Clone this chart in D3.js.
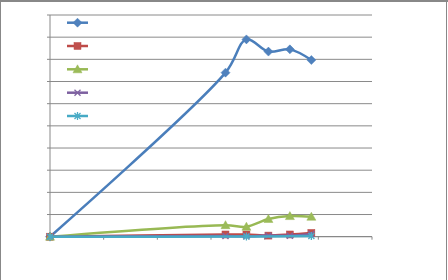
<!DOCTYPE html>
<html><head><meta charset="utf-8">
<script src="https://cdn.jsdelivr.net/npm/d3@7"></script>
<style>html,body{margin:0;padding:0;background:#fff;}svg{display:block;}</style>
</head><body>
<script>
// Data (no labels are shown in the reference)
const xValues = [0, 3.27, 3.66, 4.07, 4.47, 4.87];
const blueValues = [0, 7.40, 8.90, 8.35, 8.45, 7.97];
const redValues = [0, 0.10, 0.10, 0.05, 0.10, 0.17];
const greenValues = [0, 0.52, 0.45, 0.80, 0.93, 0.90];
const purpleValues = [0, 0.03, 0.02, 0.05, 0.04, 0.12];
const cyanX = [0, 3.66, 4.87];
const cyanValues = [0, 0.01, 0.03];
const xTicks = [0, 1, 2, 3, 4, 5, 6];
const yTicks = [0, 1, 2, 3, 4, 5, 6, 7, 8, 9, 10];

const W = 448, H = 280;
const svg = d3.select("body").append("svg").attr("width", W).attr("height", H);

// outer frame
svg.append("line").attr("x1",0).attr("x2",W).attr("y1",1).attr("y2",1).attr("stroke","#888").attr("stroke-width",2);
svg.append("line").attr("x1",0.5).attr("x2",0.5).attr("y1",0).attr("y2",H).attr("stroke","#888");
svg.append("line").attr("x1",446.5).attr("x2",446.5).attr("y1",0).attr("y2",H).attr("stroke","#888");

const x = d3.scaleLinear().domain([0, 6]).range([50, 372]);
const y = d3.scaleLinear().domain([0, 10]).range([236.7, 15]);

// gridlines + y ticks
svg.append("g").selectAll("line").data(yTicks.slice(1)).join("line")
  .attr("x1", 47).attr("x2", 372).attr("y1", d => y(d)).attr("y2", d => y(d))
  .attr("stroke", "#8a8a8a").attr("stroke-width", 1);

// y axis line
svg.append("line").attr("x1", x(0)).attr("x2", x(0)).attr("y1", y(10)).attr("y2", y(0) + 3)
  .attr("stroke", "#888").attr("stroke-width", 1);
// x axis line
svg.append("line").attr("x1", 47).attr("x2", x(6)).attr("y1", y(0)).attr("y2", y(0))
  .attr("stroke", "#888").attr("stroke-width", 1.3);
// x ticks
svg.append("g").selectAll("line").data(xTicks).join("line")
  .attr("x1", d => x(d)).attr("x2", d => x(d)).attr("y1", y(0)).attr("y2", y(0) + 3)
  .attr("stroke", "#888").attr("stroke-width", 1);

const curve = d3.curveCatmullRom.alpha(0.5);
const line = d3.line().x(d => x(d[0])).y(d => y(d[1])).curve(curve);

const series = [
  {xs: xValues, ys: blueValues, color: "#4a7ebb", mfill: "#4f81bd", marker: "diamond", w: 2.5},
  {xs: xValues, ys: redValues, color: "#be4b48", mfill: "#c0504d", marker: "square", w: 2.5},
  {xs: xValues, ys: greenValues, color: "#98b954", mfill: "#9bbb59", marker: "triangle", w: 2.5},
  {xs: xValues, ys: purpleValues, color: "#7d60a0", mfill: "#8064a2", marker: "x", w: 2.5},
  {xs: cyanX, ys: cyanValues, color: "#46aac5", mfill: "#4bacc6", marker: "star", w: 2.5}
];

function drawMarker(g, type, cx, cy, s) {
  const m = g.append("g").attr("transform", `translate(${cx},${cy})`);
  if (type === "diamond") {
    m.append("path").attr("d", "M0,-4.5L4.5,0L0,4.5L-4.5,0Z").attr("fill", s.mfill).attr("stroke", s.color).attr("stroke-width", 0.5);
  } else if (type === "square") {
    m.append("rect").attr("x", -3.5).attr("y", -3.5).attr("width", 7).attr("height", 7).attr("fill", s.mfill).attr("stroke", s.color).attr("stroke-width", 0.5);
  } else if (type === "triangle") {
    m.append("path").attr("d", "M0,-4.5L4.5,3.5L-4.5,3.5Z").attr("fill", s.mfill).attr("stroke", s.color).attr("stroke-width", 0.5);
  } else if (type === "x") {
    m.append("path").attr("d", "M-3,-3L3,3M-3,3L3,-3").attr("stroke", s.mfill).attr("stroke-width", 1.3).attr("fill", "none");
  } else if (type === "star") {
    m.append("path").attr("d", "M-3,-3L3,3M-3,3L3,-3M0,-4L0,4").attr("stroke", s.mfill).attr("stroke-width", 1.3).attr("fill", "none");
  }
}

// draw lines in reverse z-order like Excel (first series on bottom)
series.forEach(s => {
  const pts = s.xs.map((v, i) => [v, s.ys[i]]);
  svg.append("path").datum(pts).attr("d", line).attr("fill", "none")
    .attr("stroke", s.color).attr("stroke-width", s.w).attr("stroke-linejoin", "round").attr("stroke-linecap", "round");
  const mg = svg.append("g");
  pts.forEach(p => drawMarker(mg, s.marker, x(p[0]), y(p[1]), s));
});

// legend (symbols only, no text in the reference)
const legendY = [22.7, 46, 69.3, 92.7, 116];
series.forEach((s, i) => {
  const g = svg.append("g");
  g.append("line").attr("x1", 67).attr("x2", 88).attr("y1", legendY[i]).attr("y2", legendY[i])
    .attr("stroke", s.color).attr("stroke-width", 2.5);
  drawMarker(g, s.marker, 77.5, legendY[i], s);
});
</script>
</body></html>
